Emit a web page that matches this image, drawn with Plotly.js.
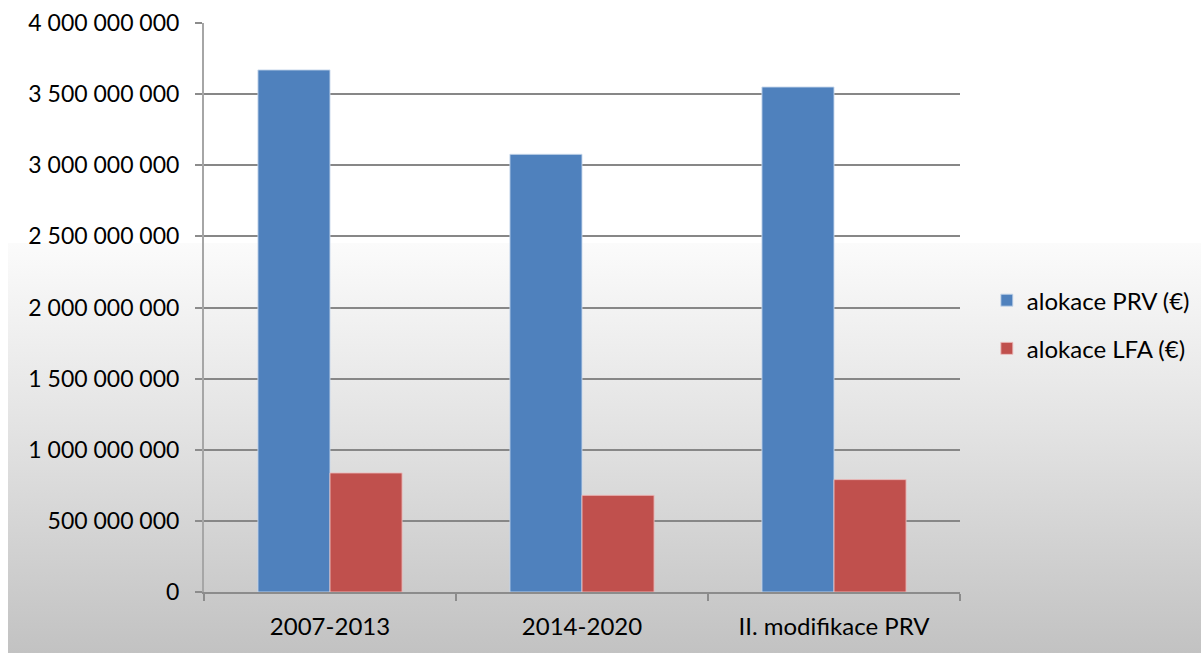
<!DOCTYPE html>
<html>
<head>
<meta charset="utf-8">
<script src="https://cdn.plot.ly/plotly-3.0.1.min.js"></script>
<style>
  html, body { margin: 0; padding: 0; background: #ffffff; }
  #wrap { position: relative; width: 1201px; height: 653px; overflow: hidden; }
  #bg { position: absolute; left: 8px; top: 243px; right: 0; bottom: 0;
        background: linear-gradient(to bottom, #fbfbfb 0%, #e3e3e3 45%, #c2c2c2 100%); }
  #chart { position: absolute; left: 0; top: 0; width: 1201px; height: 653px; }
</style>
</head>
<body>
<div id="wrap"><div id="bg"></div><div id="chart"></div></div>
<script>
const categories = ["2007-2013", "2014-2020", "II. modifikace PRV"];
const seriesNames = ["alokace PRV (€)", "alokace LFA (€)"];
const prvValues = [3670000000, 3077000000, 3550000000];
const lfaValues = [837000000, 680000000, 790000000];
const yTickValues = [0, 500000000, 1000000000, 1500000000, 2000000000, 2500000000, 3000000000, 3500000000, 4000000000];
const yTickLabels = ["0", "500 000 000", "1 000 000 000", "1 500 000 000", "2 000 000 000", "2 500 000 000", "3 000 000 000", "3 500 000 000", "4 000 000 000"];

const font = "Lato, 'Open Sans', sans-serif";

const traces = [
  {
    type: "bar", name: seriesNames[0], x: categories, y: prvValues,
    legendgroup: "a",
    marker: { color: "#4F81BD", line: { color: "rgba(200,215,235,0.9)", width: 1 } }
  },
  {
    type: "bar", name: seriesNames[1], x: categories, y: lfaValues,
    legendgroup: "b",
    marker: { color: "#C0504D", line: { color: "rgba(235,190,190,0.9)", width: 1 } }
  }
];

const layout = {
  width: 1201, height: 653,
  margin: { l: 204, r: 241, t: 23, b: 61, pad: 0, autoexpand: false },
  paper_bgcolor: "rgba(0,0,0,0)",
  plot_bgcolor: "rgba(0,0,0,0)",
  barmode: "group",
  bargap: 0.428,
  bargroupgap: 0,
  font: { family: font, size: 24, color: "#000000" },
  showlegend: true,
  legend: {
    x: 1.0355, xanchor: "left", y: 0.47, yanchor: "middle",
    bgcolor: "rgba(0,0,0,0)",
    font: { family: font, size: 24, color: "#000000" },
    tracegroupgap: 14,
    itemwidth: 30,
    itemclick: false
  },
  xaxis: {
    type: "category",
    showline: true, linecolor: "#8c8c8c", linewidth: 2,
    ticks: "outside", tickson: "boundaries", ticklen: 7, tickwidth: 2, tickcolor: "#8c8c8c",
    showgrid: false, zeroline: false,
    tickfont: { family: font, size: 24, color: "#000000" },
    ticklabelstandoff: 12,
    fixedrange: true
  },
  yaxis: {
    range: [0, 4000000000],
    tickvals: yTickValues, ticktext: yTickLabels,
    showline: true, linecolor: "#a6a6a6", linewidth: 2,
    ticks: "outside", ticklen: 7, tickwidth: 2, tickcolor: "#8c8c8c",
    showgrid: true, gridcolor: "#878787", gridwidth: 2,
    zeroline: false,
    tickfont: { family: font, size: 23, color: "#000000" },
    ticklabelstandoff: 11,
    fixedrange: true
  }
};

Plotly.newPlot("chart", traces, layout, { displayModeBar: false, staticPlot: true });
</script>
</body>
</html>
